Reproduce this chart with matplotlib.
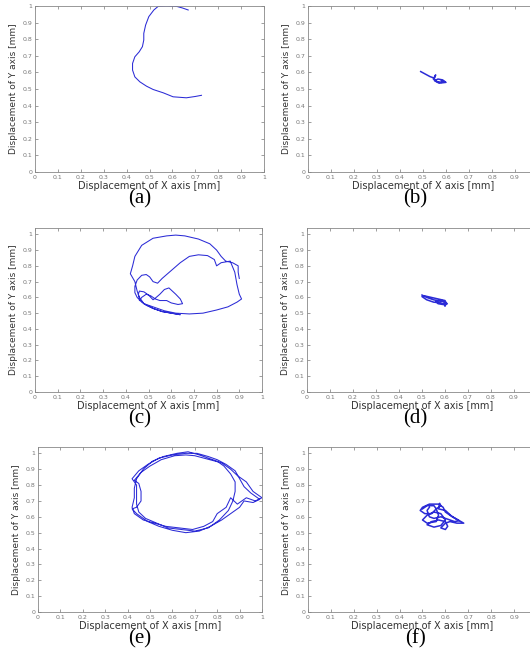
import numpy as np
import matplotlib
matplotlib.use("Agg")
import matplotlib.pyplot as plt

# trajectories, in mm
x_a = [0.727, 0.70, 0.661, 0.603, 0.56, 0.516, 0.487, 0.458, 0.436, 0.426, 0.426, 0.436,
       0.455, 0.469, 0.475, 0.475, 0.483, 0.497, 0.519, 0.538, 0.574, 0.618, 0.644, 0.669]
y_a = [0.462, 0.455, 0.447, 0.453, 0.477, 0.497, 0.517, 0.543, 0.573, 0.614, 0.654, 0.694,
       0.724, 0.755, 0.795, 0.835, 0.885, 0.936, 0.976, 0.998, 1.0, 0.998, 0.988, 0.976]

x_b = [0.49, 0.51, 0.53, 0.55, 0.555, 0.545, 0.56, 0.58, 0.595, 0.585, 0.565, 0.55, 0.57, 0.60, 0.58]
y_b = [0.605, 0.59, 0.575, 0.565, 0.585, 0.56, 0.545, 0.54, 0.545, 0.555, 0.56, 0.55, 0.535, 0.54, 0.55]

x_c = [0.90, 0.895, 0.895, 0.87, 0.84, 0.82, 0.80, 0.77, 0.72, 0.66, 0.62, 0.58, 0.52, 0.47,
       0.44, 0.43, 0.42, 0.44, 0.45, 0.46, 0.48, 0.52, 0.56, 0.60, 0.62, 0.64, 0.60, 0.56,
       0.52, 0.49, 0.47, 0.45, 0.44, 0.44, 0.45, 0.47, 0.49, 0.505, 0.52, 0.54, 0.56, 0.60,
       0.64, 0.68, 0.72, 0.76, 0.79, 0.80, 0.82, 0.86, 0.88, 0.89, 0.90, 0.91, 0.89, 0.85,
       0.80, 0.74, 0.68, 0.62, 0.57, 0.52, 0.48, 0.46, 0.455, 0.46, 0.48, 0.50, 0.51, 0.52,
       0.53, 0.55, 0.57, 0.59, 0.62, 0.64, 0.65, 0.63, 0.60, 0.58, 0.55, 0.53, 0.51, 0.49,
       0.47, 0.46]
y_c = [0.72, 0.76, 0.80, 0.82, 0.83, 0.86, 0.90, 0.94, 0.97, 0.99, 0.995, 0.99, 0.975, 0.93,
       0.86, 0.80, 0.75, 0.70, 0.64, 0.60, 0.56, 0.53, 0.51, 0.50, 0.495, 0.49, 0.50, 0.51,
       0.53, 0.55, 0.57, 0.60, 0.63, 0.67, 0.71, 0.74, 0.745, 0.73, 0.70, 0.69, 0.72, 0.77,
       0.82, 0.86, 0.87, 0.865, 0.84, 0.80, 0.82, 0.83, 0.76, 0.68, 0.62, 0.59, 0.57, 0.54,
       0.52, 0.50, 0.495, 0.50, 0.515, 0.54, 0.56, 0.59, 0.62, 0.64, 0.635, 0.615, 0.60, 0.585,
       0.595, 0.62, 0.65, 0.66, 0.62, 0.59, 0.56, 0.555, 0.565, 0.58, 0.58, 0.59, 0.61, 0.62,
       0.60, 0.58]

x_d = [0.50, 0.52, 0.55, 0.58, 0.60, 0.61, 0.60, 0.58, 0.55, 0.52, 0.50, 0.51, 0.54, 0.57,
       0.60, 0.605, 0.59, 0.57, 0.56, 0.58, 0.60, 0.60]
y_d = [0.615, 0.60, 0.585, 0.575, 0.57, 0.56, 0.55, 0.565, 0.57, 0.585, 0.605, 0.61, 0.60, 0.59,
       0.58, 0.565, 0.555, 0.56, 0.575, 0.585, 0.57, 0.545]

x_e = [0.44, 0.47, 0.51, 0.56, 0.62, 0.67, 0.72, 0.76, 0.80, 0.83, 0.86, 0.88, 0.88, 0.87,
       0.85, 0.81, 0.76, 0.70, 0.64, 0.58, 0.53, 0.48, 0.45, 0.44, 0.44, 0.44,
       0.42, 0.45, 0.49, 0.54, 0.60, 0.66, 0.71, 0.76, 0.80, 0.84, 0.88, 0.90, 0.92, 0.95,
       0.99, 0.96, 0.92, 0.90, 0.86, 0.82, 0.77, 0.72, 0.66, 0.60, 0.54, 0.49, 0.44, 0.42,
       0.44, 0.46, 0.46, 0.45,
       0.43, 0.46, 0.50, 0.55, 0.61, 0.66, 0.70, 0.74, 0.78, 0.82, 0.86, 0.89, 0.93, 0.96,
       1.0, 0.97, 0.93, 0.89, 0.86, 0.84, 0.80, 0.78, 0.74, 0.69, 0.63, 0.57, 0.52, 0.47,
       0.43, 0.42, 0.43, 0.43, 0.44]
y_e = [0.84, 0.90, 0.95, 0.98, 1.0, 1.01, 0.99, 0.97, 0.95, 0.92, 0.87, 0.82, 0.76, 0.70,
       0.64, 0.58, 0.53, 0.51, 0.52, 0.53, 0.56, 0.59, 0.63, 0.68, 0.74, 0.80,
       0.84, 0.89, 0.93, 0.97, 0.99, 1.0, 1.0, 0.98, 0.96, 0.93, 0.89, 0.84, 0.79, 0.75,
       0.71, 0.69, 0.70, 0.66, 0.62, 0.58, 0.54, 0.51, 0.50, 0.515, 0.54, 0.57, 0.62, 0.65,
       0.66, 0.70, 0.76, 0.81,
       0.83, 0.88, 0.92, 0.96, 0.985, 0.99, 0.985, 0.97, 0.955, 0.94, 0.90, 0.86, 0.82, 0.76,
       0.72, 0.70, 0.72, 0.68, 0.72, 0.66, 0.62, 0.57, 0.54, 0.52, 0.53, 0.54, 0.56, 0.58,
       0.62, 0.66, 0.72, 0.78, 0.84]

x_f = [0.50, 0.52, 0.55, 0.56, 0.54, 0.51, 0.49, 0.50, 0.53, 0.57, 0.59, 0.60, 0.62, 0.65,
       0.68, 0.65, 0.62, 0.60, 0.58, 0.60, 0.61, 0.60, 0.57, 0.54, 0.52, 0.55, 0.58, 0.60,
       0.58, 0.55, 0.52, 0.50, 0.52, 0.56, 0.57, 0.56, 0.58, 0.575, 0.57, 0.60, 0.63, 0.66,
       0.64, 0.60, 0.58, 0.55, 0.53, 0.52, 0.53]
y_f = [0.65, 0.67, 0.67, 0.65, 0.62, 0.62, 0.64, 0.66, 0.68, 0.68, 0.66, 0.63, 0.61, 0.585,
       0.56, 0.56, 0.57, 0.56, 0.53, 0.52, 0.54, 0.57, 0.58, 0.57, 0.55, 0.535, 0.545, 0.58,
       0.62, 0.63, 0.61, 0.58, 0.56, 0.57, 0.61, 0.65, 0.67, 0.685, 0.65, 0.64, 0.60, 0.575,
       0.57, 0.59, 0.60, 0.59, 0.60, 0.64, 0.66]

panel_names = ["(a)", "(b)", "(c)", "(d)", "(e)", "(f)"]
xs = [x_a, x_b, x_c, x_d, x_e, x_f]
ys = [y_a, y_b, y_c, y_d, y_e, y_f]
ytops = [1.0, 1.0, 1.04, 1.04, 1.04, 1.04]

W, H = 530, 657
# axes boxes in pixels: left, top, right, bottom (right column runs past the edge)
boxes = [(35, 6, 264, 172), (308, 6, 538, 172),
         (35, 228, 262, 392), (307, 228, 537, 392),
         (38, 447, 262, 612), (308, 447, 537, 612)]

fig = plt.figure(figsize=(W / 100, H / 100), dpi=100)

ticks = np.arange(0, 1.01, 0.1)
tick_text = ["0"] + ["%.1f" % v for v in ticks[1:-1]] + ["1"]

for i in range(6):
    l, t, r, b = boxes[i]
    ax = fig.add_axes([l / W, 1 - b / H, (r - l) / W, (b - t) / H])
    lw = 0.75 if i % 2 == 0 else 1.1
    ax.plot(xs[i], ys[i], color="#2b2bd6", lw=lw)
    ax.set_xlim(0, 1)
    ax.set_ylim(0, ytops[i])
    ax.set_xticks(ticks)
    ax.set_yticks(ticks)
    if i % 2 == 0:
        ax.set_xticklabels(tick_text)
    else:
        ax.set_xticklabels(tick_text[:-1] + [""])
    ax.set_yticklabels(tick_text)
    ax.tick_params(direction="in", length=2.5, width=0.5, top=True, right=True,
                   labelsize=4.5, labelcolor="#777777", color="#777777", pad=2)
    for s in ax.spines.values():
        s.set_color("#888888")
        s.set_linewidth(0.6)
    ax.set_xlabel("Displacement of X axis [mm]", fontsize=7, color="#333333", labelpad=1)
    ax.set_ylabel("Displacement of Y axis [mm]", fontsize=6.5, color="#333333", labelpad=3)
    cx = 140 if i % 2 == 0 else 415
    fig.text(cx / W, 1 - (b + 27) / H, panel_names[i], ha="center", va="center",
             fontsize=15, family="Liberation Serif")

fig.savefig("out.png", dpi=100)
